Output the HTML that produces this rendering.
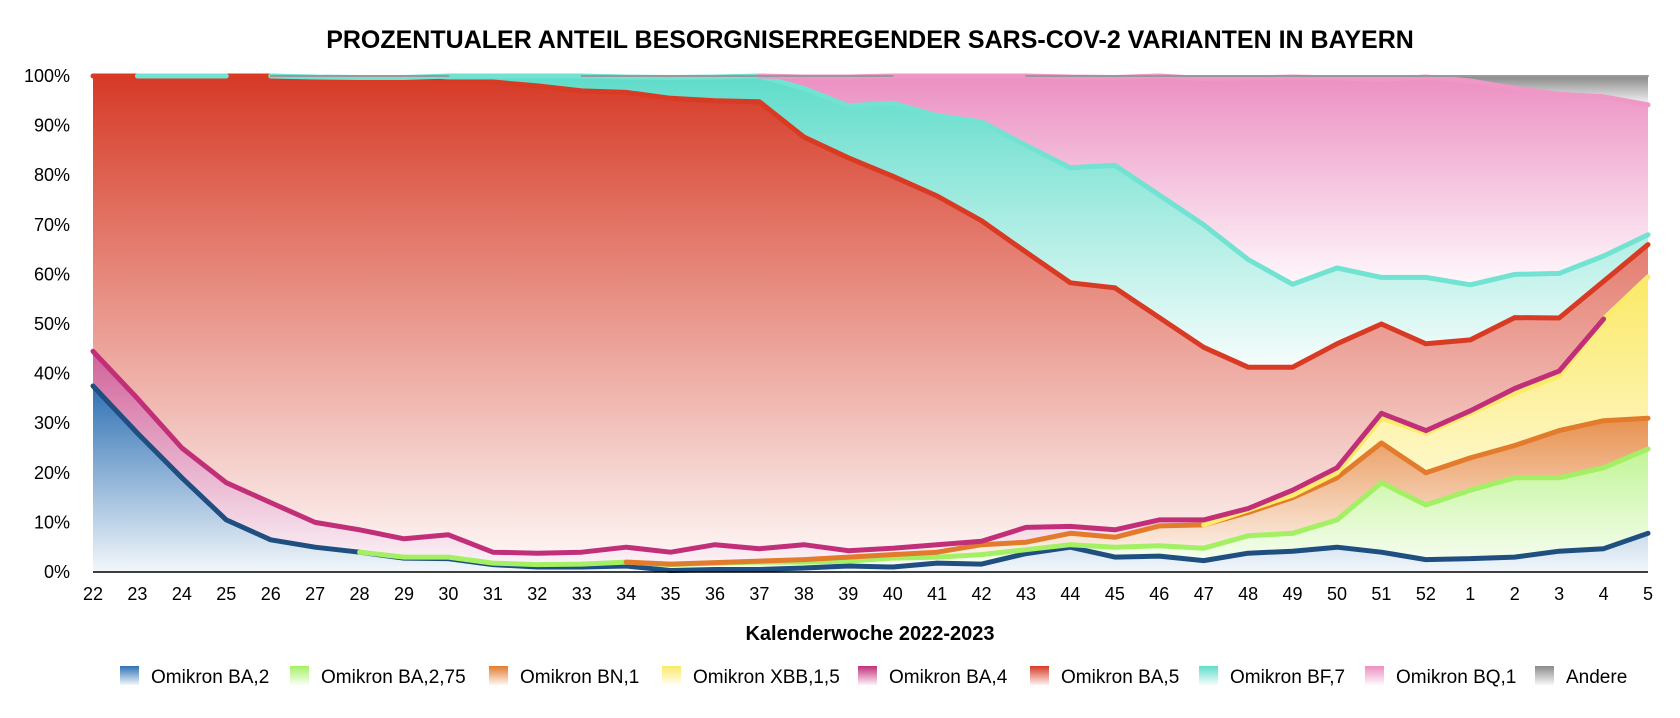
<!DOCTYPE html>
<html><head><meta charset="utf-8"><style>
body{margin:0;background:#fff;}
svg{display:block;font-family:"Liberation Sans",Arial,sans-serif;}
</style></head><body>
<svg id="chart" width="1680" height="718" viewBox="0 0 1680 718">
<defs id="defs"></defs>
<text x="870" y="48" text-anchor="middle" font-size="25" font-weight="bold">PROZENTUALER ANTEIL BESORGNISERREGENDER SARS-COV-2 VARIANTEN IN BAYERN</text>
<g id="areas"></g>
<g id="lines"></g>
<g id="yaxis"></g>
<g id="xaxis"></g>
<line x1="93" y1="572" x2="1648" y2="572" stroke="#000" stroke-width="1.5"/>
<text x="870" y="640" text-anchor="middle" font-size="20" font-weight="bold">Kalenderwoche 2022-2023</text>
<g id="legend"></g>
</svg>
<script>
const weeks=[22,23,24,25,26,27,28,29,30,31,32,33,34,35,36,37,38,39,40,41,42,43,44,45,46,47,48,49,50,51,52,1,2,3,4,5];
const yTicks=[0,10,20,30,40,50,60,70,80,90,100];
const seriesNames=["Omikron BA,2","Omikron BA,2,75","Omikron BN,1","Omikron XBB,1,5","Omikron BA,4","Omikron BA,5","Omikron BF,7","Omikron BQ,1","Andere"];
const ba2=[37.5,28,19,10.5,6.5,5,4,2.8,2.7,1.5,1,1,1.2,0.3,0.5,0.5,0.8,1.2,1,1.8,1.6,3.7,5,3,3.2,2.3,3.8,4.2,5,4,2.5,2.7,3,4.2,4.7,7.8];
const ba275=[0,0,0,0,0,0,0,0.2,0.3,0.3,0.5,0.6,0.8,1.2,1.3,1.5,1.2,1,1.8,1.2,1.9,0.8,0.5,2,2.1,2.5,3.5,3.6,5.5,14,11,13.8,16,14.8,16.3,17];
const bn1=[0,0,0,0,0,0,0,0,0,0,0,0,0,0.1,0.1,0.2,0.5,0.8,0.7,1,2,1.5,2.3,2,4,4.7,4.7,7.2,8.5,8,6.5,6.5,6.5,9.5,9.5,6.2];
const xbb15=[0,0,0,0,0,0,0,0,0,0,0,0,0,0,0,0,0,0,0,0,0,0,0,0,0,0,0.5,0.5,1,5,8,9,10.5,11,20.5,28.5];
const ba4=[7,7,6,7.5,7.5,5,4.5,3.7,4.5,2.2,2.3,2.4,3,2.4,3.6,2.5,3,1.3,1.3,1.5,0.7,3,1.4,1.5,1.2,1,0.3,1,1,1,0.5,0.5,1,1,0,0];
const ba5=[55.5,65,74.8,82,86,89.5,90.8,92.7,91.3,94.8,94.2,93,91.7,91.5,89.5,90.1,82.2,79.2,75,70.3,64.6,55.5,49.1,48.8,40.8,34.8,28.5,24.8,25,18,17.5,14.3,14.3,10.7,7.6,6.5];
const bf7=[0,0,0.2,0,0,0.3,0.4,0.3,1.2,1.2,2,3,3.1,4.2,4.8,5.2,9.8,10.5,14.7,16.2,19.9,21.5,23.2,24.7,24.7,24.7,21.7,16.7,15.3,9.4,13.4,11.1,8.7,9,5.1,2];
const bq1=[0,0,0,0,0,0,0,0,0,0,0,0,0,0,0,0,2.3,5.8,5.5,8,9.3,14,18.3,17.7,24,29.5,36.6,41.8,38.3,39.9,40.4,41.1,37.5,36.1,32.1,26.2];
const andere=[0,0,0,0,0,0.2,0.3,0.3,0,0,0,0,0.2,0.3,0.2,0,0.2,0.2,0,0,0,0,0.2,0.3,0,0.5,0.4,0.2,0.4,0.7,0.2,1,2.5,3.7,4.2,5.8];

const series=[ba2,ba275,bn1,xbb15,ba4,ba5,bf7,bq1,andere];
const lineColors=["#1f4e80","#a4f064","#e37b2c","#fbec6e","#c22f79","#d83a24","#72e2d2","#ef97c7","#999999"];
const fillColors=["#2f72b4","#a4f064","#e37b2c","#fbe966","#c22f79","#d63a26","#5fdcca","#ec8fc2","#8a8a8a"];
const keys=["ba2","ba275","bn1","xbb15","ba4","ba5","bf7","bq1","andere"];
const legendX=[120,290,489,662,858,1030,1199,1365,1535];

const NS="http://www.w3.org/2000/svg";
const X0=93,X1=1648,Y0=572,Y100=76;
const xs=i=>X0+i*(X1-X0)/(weeks.length-1);
const ys=v=>Y0-v*(Y0-Y100)/100;
function mk(t,a,p){const e=document.createElementNS(NS,t);for(const k in a)e.setAttribute(k,a[k]);p.appendChild(e);return e;}
const defs=document.getElementById('defs');
fillColors.forEach((c,s)=>{
  const g=mk('linearGradient',{id:'g'+s,x1:0,y1:0,x2:0,y2:1},defs);
  mk('stop',{offset:0,'stop-color':c,'stop-opacity':1},g);
  mk('stop',{offset:1,'stop-color':c,'stop-opacity':0.06},g);
});
// cumulative
const cum=[];let prev=weeks.map(()=>0);
series.forEach(s=>{const c=s.map((v,i)=>prev[i]+v);cum.push({lo:prev,hi:c});prev=c;});
const areas=document.getElementById('areas');
cum.forEach((c,s)=>{
  let d='';
  c.hi.forEach((v,i)=>{d+=(i?'L':'M')+xs(i).toFixed(1)+','+ys(Math.min(v,100)).toFixed(1);});
  for(let i=weeks.length-1;i>=0;i--)d+='L'+xs(i).toFixed(1)+','+ys(Math.min(c.lo[i],100)).toFixed(1);
  const p=mk('path',{d:d+'Z',fill:'url(#g'+s+')'},areas);
  
  
});
const lines=document.getElementById('lines');
cum.forEach((c,s)=>{
  const vals=series[s];
  let d='';
  for(let i=0;i<weeks.length-1;i++){
    if(vals[i]>0||vals[i+1]>0){
      d+='M'+xs(i).toFixed(1)+','+ys(Math.min(c.hi[i],100)).toFixed(1)+'L'+xs(i+1).toFixed(1)+','+ys(Math.min(c.hi[i+1],100)).toFixed(1);
    }
  }
  const p=mk('path',{d:d,fill:'none',stroke:lineColors[s],'stroke-width':s===8?2:5,'stroke-linejoin':'round','stroke-linecap':'round'},lines);
  
  
});
const ya=document.getElementById('yaxis');
yTicks.forEach(t=>{
  const e=mk('text',{x:70,y:ys(t)+6,'text-anchor':'end','font-size':18},ya);
  e.textContent=t+'%';
  
  
});
const xa=document.getElementById('xaxis');
weeks.forEach((w,i)=>{
  const e=mk('text',{x:xs(i),y:600,'text-anchor':'middle','font-size':18},xa);
  e.textContent=w;
  
  
});
const lg=document.getElementById('legend');
seriesNames.forEach((n,s)=>{
  const g=mk('g',{},lg);
  
  
  mk('rect',{x:legendX[s],y:666,width:19,height:19,fill:'url(#g'+s+')'},g);
  const t=mk('text',{x:legendX[s]+31,y:683,'font-size':19},g);
  t.textContent=n;
});
</script>
</body></html>
